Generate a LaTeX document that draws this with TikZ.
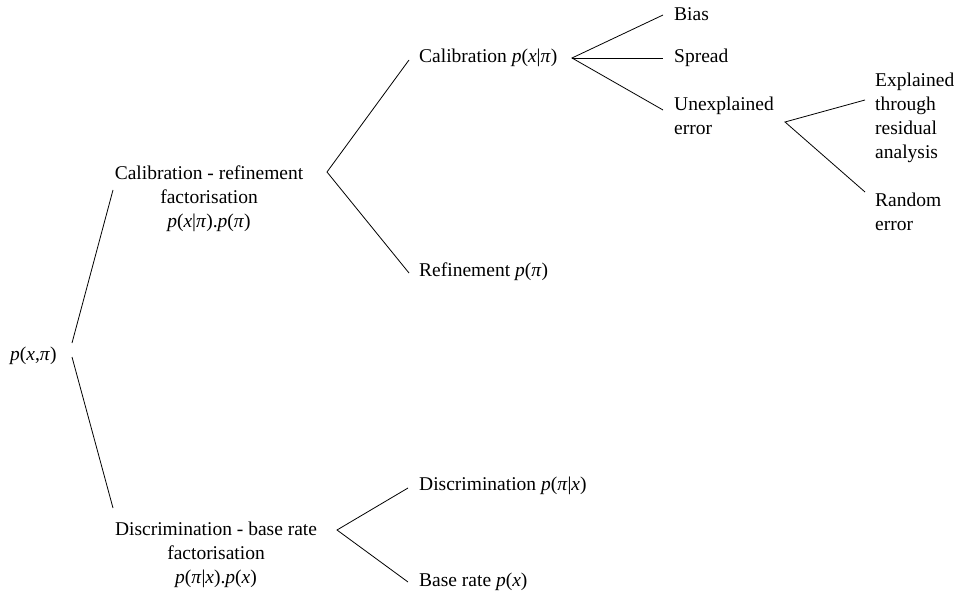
\documentclass[tikz,border=0pt]{standalone}
\usepackage{fontspec}
\setmainfont{Liberation Serif}
\newcommand{\iv}[1]{\textit{#1}}
\begin{document}
\begin{tikzpicture}[x=1pt,y=-1pt,
  lbl/.style={inner sep=0pt,font=\fontsize{19.5}{24}\selectfont},
  conn/.style={line width=0.8pt}]
\useasboundingbox (0,0) rectangle (958,596);
% nodes
\node[lbl,anchor=west] (root) at (10,356) {\iv{p}(\iv{x},\iv{π})};
\node[lbl,align=center] (calref) at (209,199) {Calibration - refinement\\factorisation\\\iv{p}(\iv{x}|\iv{π}).\iv{p}(\iv{π})};
\node[lbl,align=center] (disc) at (216,555) {Discrimination - base rate\\factorisation\\\iv{p}(\iv{π}|\iv{x}).\iv{p}(\iv{x})};
\node[lbl,anchor=west] (cal) at (419,58) {Calibration \iv{p}(\iv{x}|\iv{π})};
\node[lbl,anchor=west] (ref) at (419,272) {Refinement \iv{p}(\iv{π})};
\node[lbl,anchor=west] (bias) at (674,14) {Bias};
\node[lbl,anchor=west] (spread) at (674,58) {Spread};
\node[lbl,anchor=west,align=left] (unexp) at (674,116) {Unexplained\\error};
\node[lbl,anchor=west,align=left] (expl) at (875,118) {Explained\\through\\residual\\analysis};
\node[lbl,anchor=west,align=left] (rand) at (875,211.5) {Random\\error};
\node[lbl,anchor=west] (discr) at (419,486) {Discrimination \iv{p}(\iv{π}|\iv{x})};
\node[lbl,anchor=west] (base) at (419,582) {Base rate \iv{p}(\iv{x})};
% coordinates
\coordinate (r1) at (72,343); \coordinate (r2) at (72,357);
\coordinate (cr1) at (113,190); \coordinate (d1) at (113,508);
\coordinate (crA) at (327,172); \coordinate (calE) at (409,60); \coordinate (refE) at (409,273);
\coordinate (calA) at (572,58); \coordinate (biasE) at (663,15); \coordinate (spreadE) at (663,58); \coordinate (unexpE) at (663,110);
\coordinate (ueA) at (785,122); \coordinate (explE) at (865,100); \coordinate (randE) at (865,192);
\coordinate (dA) at (337,530); \coordinate (discrE) at (408,488); \coordinate (baseE) at (408,582);
% connectors
\draw[conn] (r1) -- (cr1);
\draw[conn] (r2) -- (d1);
\draw[conn] (calE) -- (crA) -- (refE);
\draw[conn] (biasE) -- (calA) -- (unexpE);
\draw[conn] (calA) -- (spreadE);
\draw[conn] (explE) -- (ueA) -- (randE);
\draw[conn] (discrE) -- (dA) -- (baseE);
\end{tikzpicture}
\end{document}
